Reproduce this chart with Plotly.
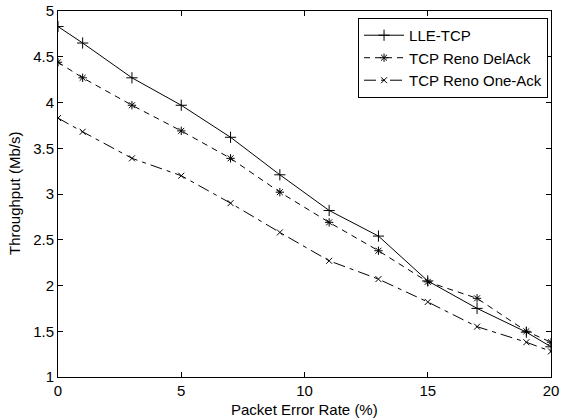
import plotly.graph_objects as go

per = [0, 1, 3, 5, 7, 9, 11, 13, 15, 17, 19, 20]
lle_tcp = [4.83, 4.65, 4.27, 3.97, 3.62, 3.21, 2.82, 2.54, 2.05, 1.75, 1.49, 1.33]
reno_delack = [4.44, 4.27, 3.97, 3.69, 3.39, 3.02, 2.69, 2.38, 2.04, 1.86, 1.50, 1.38]
reno_oneack = [3.83, 3.68, 3.39, 3.20, 2.90, 2.58, 2.27, 2.07, 1.82, 1.55, 1.38, 1.28]

x_ticks = [0, 5, 10, 15, 20]
y_ticks = [1, 1.5, 2, 2.5, 3, 3.5, 4, 4.5, 5]
y_ticktext = ["1", "1.5", "2", "2.5", "3", "3.5", "4", "4.5", "5"]

FONT = "Liberation Sans, Arial, sans-serif"

series = [
    ("LLE-TCP", lle_tcp, "solid", "cross-thin", 8),
    ("TCP Reno DelAck", reno_delack, "6px,5px", "asterisk", 7),
    ("TCP Reno One-Ack", reno_oneack, "12px,5px,4px,5px", "x-thin", 6),
]

fig = go.Figure()
for name, ys, dash, sym, sz in series:
    fig.add_trace(go.Scatter(
        x=per, y=ys, name=name, mode="lines+markers",
        line=dict(color="black", width=1, dash=dash),
        marker=dict(symbol=sym, size=sz, color="black",
                    line=dict(color="black", width=1)),
    ))

axis_common = dict(
    showline=True, linecolor="black", linewidth=1, mirror="ticks",
    ticks="inside", ticklen=5, tickcolor="black", showgrid=False, zeroline=False,
    automargin=False,
    tickfont=dict(family=FONT, size=15, color="black"),
)
fig.update_layout(
    width=563, height=420,
    margin=dict(l=58, r=12, t=11, b=43),
    paper_bgcolor="white", plot_bgcolor="white",
    font=dict(family=FONT, size=15, color="black"),
    xaxis=dict(range=[0, 20], tickvals=x_ticks, **axis_common),
    yaxis=dict(range=[1, 5], tickvals=y_ticks, ticktext=y_ticktext, **axis_common),
    legend=dict(x=0.994, y=0.981, xanchor="right", yanchor="top",
                bgcolor="white", bordercolor="black", borderwidth=1,
                font=dict(family=FONT, size=15), tracegroupgap=0, itemwidth=40),
    showlegend=True,
    annotations=[
        dict(text="Packet Error Rate (%)", xref="paper", yref="paper",
             x=0.5, y=0, yshift=-32, xanchor="center", yanchor="middle",
             showarrow=False, font=dict(family=FONT, size=15)),
        dict(text="Throughput (Mb/s)", xref="paper", yref="paper",
             x=0, y=0.5, xshift=-44, xanchor="center", yanchor="middle",
             textangle=-90, showarrow=False, font=dict(family=FONT, size=15)),
    ],
)
fig.write_html("out.html",
               config={"displayModeBar": False},
               post_script="document.body.style.margin='0';document.body.style.overflow='hidden';")
